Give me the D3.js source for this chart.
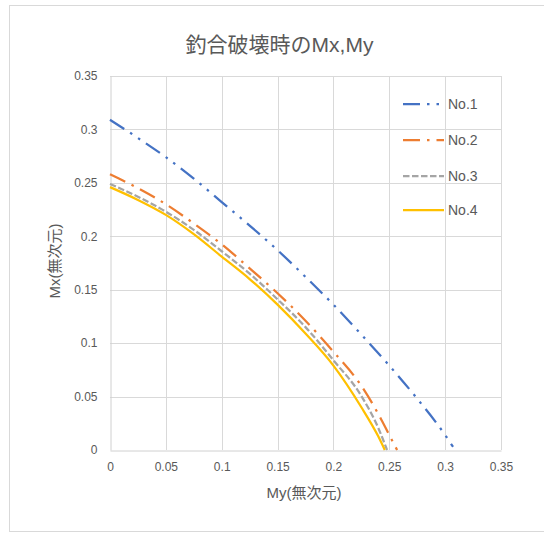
<!DOCTYPE html>
<html><head><meta charset="utf-8">
<script src="https://cdn.jsdelivr.net/npm/d3@7"></script>
<style>
html,body{margin:0;padding:0;background:#fff;}
text{font-family:"Liberation Sans","Noto Sans CJK JP",sans-serif;fill:#595959;}
</style></head>
<body><svg id="c" width="544" height="533"></svg>
<script>
const title = "釣合破壊時のMx,My";
const xTitle = "My(無次元)";
const yTitle = "Mx(無次元)";
const seriesNames = ["No.1","No.2","No.3","No.4"];
const seriesColors = ["#4472C4","#ED7D31","#A5A5A5","#FFC000"];
const tickValues = [0,0.05,0.1,0.15,0.2,0.25,0.3,0.35];
const tickLabels = ["0","0.05","0.1","0.15","0.2","0.25","0.3","0.35"];

const my1 = [0,0.025,0.05,0.075,0.1,0.125,0.15,0.175,0.2,0.225,0.25,0.275,0.3,0.307];
const mx1 = [0.309,0.292,0.274,0.254,0.232,0.210,0.187,0.162,0.136,0.108,0.079,0.048,0.014,0.003];
const my2 = [0,0.025,0.05,0.075,0.1,0.125,0.15,0.175,0.2,0.225,0.24,0.25,0.257];
const mx2 = [0.258,0.245,0.230,0.212,0.1925,0.170,0.1467,0.121,0.092,0.060,0.034,0.014,0];
const my3 = [0,0.025,0.05,0.075,0.1,0.125,0.15,0.175,0.2,0.225,0.24,0.248];
const mx3 = [0.249,0.237,0.223,0.206,0.186,0.165,0.141,0.115,0.084,0.0505,0.021,0];
const my4 = [0,0.025,0.05,0.075,0.1,0.125,0.15,0.175,0.2,0.225,0.24,0.246];
const mx4 = [0.246,0.234,0.220,0.202,0.181,0.160,0.136,0.109,0.079,0.040,0.013,0];

const dashes = ["17,7,2.5,7,2.5,7","17,7,2.5,7","6.5,2.5",null];
const series = [[my1,mx1],[my2,mx2],[my3,mx3],[my4,mx4]].map((s,i)=>({
  name: seriesNames[i], color: seriesColors[i], dash: dashes[i],
  pts: s[0].map((v,j)=>[v,s[1][j]])
}));

const svg = d3.select("#c");
const L=110, R=501, T=76, B=450;
const x = d3.scaleLinear().domain([0,0.35]).range([L,R]);
const y = d3.scaleLinear().domain([0,0.35]).range([B,T]);

// chart border
svg.append("rect").attr("x",9.5).attr("y",5.5).attr("width",600).attr("height",526)
  .attr("fill","none").attr("stroke","#d9d9d9").attr("stroke-width",1);

// title
svg.append("text").attr("x",279.5).attr("y",52).attr("text-anchor","middle")
  .attr("font-size",21).text(title);

// gridlines
const g = svg.append("g");
g.selectAll("line.v").data(tickValues.slice(1)).enter().append("line")
  .attr("x1",d=>Math.round(x(d))+0.5).attr("x2",d=>Math.round(x(d))+0.5)
  .attr("y1",T).attr("y2",B).attr("stroke","#d9d9d9").attr("stroke-width",1);
g.selectAll("line.h").data(tickValues.slice(1)).enter().append("line")
  .attr("y1",d=>Math.round(y(d))+0.5).attr("y2",d=>Math.round(y(d))+0.5)
  .attr("x1",L).attr("x2",R).attr("stroke","#d9d9d9").attr("stroke-width",1);

// axes
const xAxis = d3.axisBottom(x).tickValues(tickValues).tickFormat((d,i)=>tickLabels[i]).tickSize(0).tickPadding(12);
const yAxis = d3.axisLeft(y).tickValues(tickValues).tickFormat((d,i)=>tickLabels[i]).tickSize(0).tickPadding(13);
const gx = svg.append("g").attr("transform",`translate(0,${B+0.5})`).call(xAxis);
const gy = svg.append("g").attr("transform",`translate(${L+0.5},0)`).call(yAxis);
[gx,gy].forEach(a=>{
  a.select(".domain").attr("stroke","#d0d0d0").attr("stroke-width",1);
  a.selectAll("text").attr("font-size",12).attr("fill","#595959")
   .style("font-family",'"Liberation Sans","Noto Sans CJK JP",sans-serif');
});

// axis titles
svg.append("text").attr("x",304).attr("y",498).attr("text-anchor","middle")
  .attr("font-size",15).text(xTitle);
svg.append("text").attr("transform","translate(60,261) rotate(-90)").attr("text-anchor","middle")
  .attr("font-size",15).text(yTitle);

// lines
const line = d3.line().x(d=>x(d[0])).y(d=>y(d[1])).curve(d3.curveMonotoneX);
svg.append("g").selectAll("path").data(series).enter().append("path")
  .attr("d",d=>line(d.pts)).attr("fill","none").attr("stroke",d=>d.color)
  .attr("stroke-width",2.25).attr("stroke-dasharray",d=>d.dash);

// legend
const legY = [104,140,176,210];
const lg = svg.append("g").selectAll("g").data(series).enter().append("g")
  .attr("transform",(d,i)=>`translate(0,${legY[i]})`);
lg.append("line").attr("x1",403).attr("x2",444).attr("y1",0).attr("y2",0)
  .attr("stroke",d=>d.color).attr("stroke-width",2.25).attr("stroke-dasharray",d=>d.dash);
lg.append("text").attr("x",448).attr("y",5).attr("font-size",14).text(d=>d.name);
</script></body></html>
